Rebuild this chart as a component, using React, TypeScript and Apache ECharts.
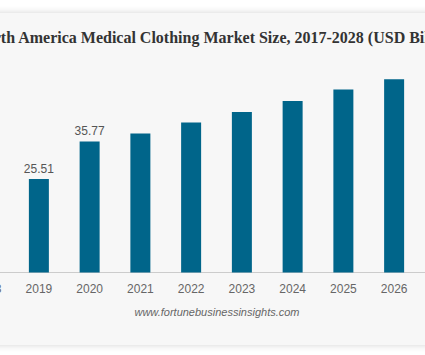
import React, { useEffect, useRef } from "react";
import * as echarts from "echarts";

const titleText = "North America Medical Clothing Market Size, 2017-2028 (USD Billion)";
const sourceText = "www.fortunebusinessinsights.com";
const years = ["2017", "2018", "2019", "2020", "2021", "2022", "2023", "2024", "2025", "2026", "2027", "2028"];
const values = [23.1, 24.3, 25.51, 35.77, 37.9, 40.9, 43.8, 46.8, 49.9, 52.7, 55.8, 58.9];
const labelledYears = ["2017", "2019", "2020"];

export default function App() {
  const ref = useRef<HTMLDivElement>(null);
  useEffect(() => {
    if (!ref.current) return;
    const chart = echarts.init(ref.current, null, { renderer: "svg" });
    chart.setOption({
      animation: false,
      backgroundColor: "#f7f7f7",
      title: {
        text: titleText,
        left: "center",
        top: 11,
        textStyle: {
          fontFamily: "Liberation Serif",
          fontWeight: "bold",
          fontSize: 16,
          color: "#333333",
        },
      },
      grid: { left: 32, right: 33, top: 39.6, bottom: 72.5 },
      xAxis: {
        type: "category",
        data: years,
        axisTick: { show: false },
        axisLine: { lineStyle: { color: "#cccccc", width: 1 } },
        axisLabel: {
          color: "#666666",
          fontSize: 12,
          fontFamily: "Liberation Sans",
          margin: 10,
        },
      },
      yAxis: {
        type: "value",
        min: 0,
        max: 60,
        show: false,
        splitLine: { show: false },
      },
      series: [
        {
          type: "bar",
          barWidth: 20,
          data: values.map((v, i) => ({
            value: v,
            label: { show: labelledYears.includes(years[i]) },
          })),
          itemStyle: { color: "#00658a" },
          label: {
            position: "top",
            distance: 4,
            color: "#555555",
            fontSize: 12,
            fontFamily: "Liberation Sans",
          },
        },
      ],
      graphic: [
        {
          type: "text",
          left: "center",
          top: 293,
          style: {
            text: sourceText,
            fontSize: 11,
            fontStyle: "italic",
            fontFamily: "Liberation Sans",
            fill: "#666666",
          },
        },
      ],
    });
    return () => chart.dispose();
  }, []);
  return (
    <div
      style={{
        position: "fixed",
        left: 0,
        top: 0,
        width: 425,
        height: 355,
        overflow: "hidden",
        background: "#ffffff",
      }}
    >
      <div
        style={{
          position: "absolute",
          left: -120,
          top: 13,
          width: 674,
          height: 332,
          boxShadow: "0 0 7px rgba(0,0,0,0.18)",
        }}
      >
        <div ref={ref} style={{ width: 674, height: 332 }} />
      </div>
    </div>
  );
}
